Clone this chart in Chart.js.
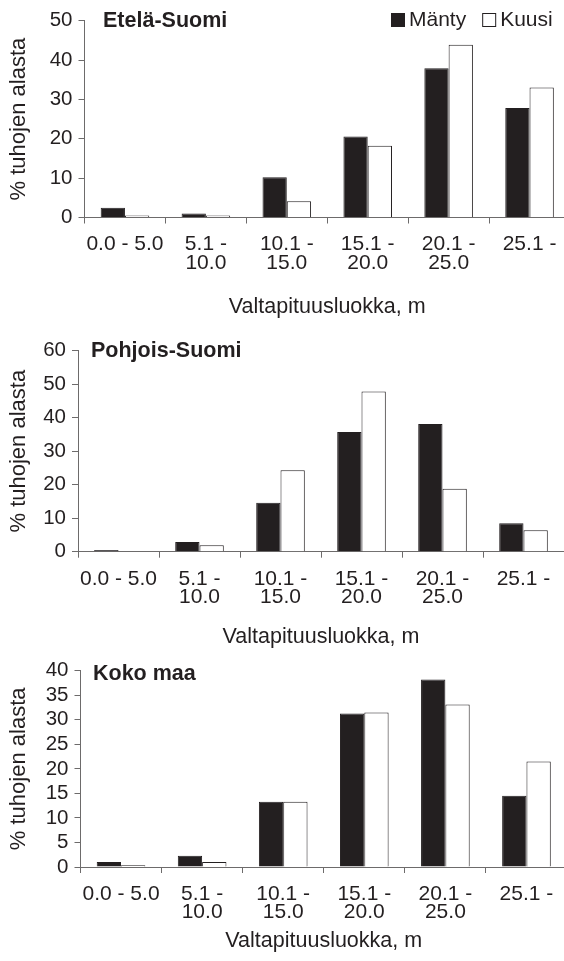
<!DOCTYPE html>
<html lang="fi">
<head>
<meta charset="UTF-8">
<title>Tuhot valtapituusluokittain</title>
<script src="https://cdn.jsdelivr.net/npm/chart.js@4"></script>
<style>
  body { margin: 0; width: 564px; height: 961px; overflow: hidden; background: #fff; position: relative; }
  canvas { position: absolute; left: 0; }
</style>
</head>
<body>
<canvas id="etela" width="570" height="325" style="top:0px"></canvas>
<canvas id="pohjoinen" width="564" height="325" style="top:330px"></canvas>
<canvas id="koko" width="567" height="311" style="top:650px"></canvas>
<script>
// luokat ja arvot (luettu kuvasta)
const categories = [['0.0 - 5.0'], ['5.1 -', '10.0'], ['10.1 -', '15.0'], ['15.1 -', '20.0'], ['20.1 -', '25.0'], ['25.1 -']]
const seriesNames = ['Mänty', 'Kuusi']

const etelaManty = [2.5, 1.0, 10.2, 20.6, 37.9, 27.8]
const etelaKuusi = [0.5, 0.5, 4.1, 18.2, 43.9, 33.0]
const pohjoisManty = [0.5, 2.9, 14.6, 35.7, 38.1, 8.5]
const pohjoisKuusi = [0, 1.9, 24.3, 47.8, 18.8, 6.4]
const kokoManty = [1.0, 2.3, 13.3, 31.3, 38.2, 14.5]
const kokoKuusi = [0.35, 1.0, 13.3, 31.5, 33.1, 21.5]

const etelaTicks = [0, 10, 20, 30, 40, 50]
const pohjoisTicks = [0, 10, 20, 30, 40, 50, 60]
const kokoTicks = [0, 5, 10, 15, 20, 25, 30, 35, 40]

const ink = '#231f20'
const axisGray = '#6d6b6b'
const fam = '"Liberation Sans", Arial, Helvetica, sans-serif'
Chart.defaults.font.family = fam
Chart.defaults.color = ink

// paneelin otsikko + selite piirretään kuva-alueen sisään
const panelText = {
  id: 'panelText',
  afterDraw(chart, args, opts) {
    const ctx = chart.ctx, area = chart.chartArea
    ctx.save()
    ctx.textBaseline = 'middle'
    ctx.fillStyle = ink
    ctx.font = 'bold 21.5px ' + fam
    ctx.fillText(opts.text, area.left + opts.dx, area.top + opts.dy)
    if (opts.legend) {
      ctx.font = '21px ' + fam
      let x = opts.legend.x
      const y = opts.legend.y
      chart.data.datasets.forEach(ds => {
        ctx.fillStyle = ds.backgroundColor
        ctx.fillRect(x, y - 7, 14, 14)
        ctx.strokeStyle = ink
        ctx.lineWidth = 1
        ctx.strokeRect(x + 0.5, y - 6.5, 13, 13)
        x += 18
        ctx.fillStyle = ink
        ctx.fillText(ds.label, x, y)
        x += ctx.measureText(ds.label).width + 16
      })
    }
    ctx.restore()
  }
}

function makeChart(id, title, manty, kuusi, ticks, axisW, xAxisH, titlePos, xTitlePad, legend) {
  new Chart(document.getElementById(id), {
    type: 'bar',
    data: {
      labels: categories,
      datasets: [
        { label: seriesNames[0], data: manty, backgroundColor: ink, borderColor: ink, borderWidth: 1 },
        { label: seriesNames[1], data: kuusi, backgroundColor: '#ffffff', borderColor: ink, borderWidth: 1 }
      ]
    },
    options: {
      responsive: false,
      animation: false,
      layout: { padding: { top: 20.7, left: 0, right: 0, bottom: 0 } },
      datasets: { bar: { categoryPercentage: 0.6, barPercentage: 1.0 } },
      plugins: {
        legend: { display: false },
        tooltip: { enabled: false },
        panelText: { text: title, dx: titlePos[0], dy: titlePos[1], legend: legend }
      },
      scales: {
        x: {
          grid: { drawOnChartArea: false, drawTicks: true, tickLength: 6, color: axisGray },
          border: { color: axisGray, width: 1 },
          ticks: { maxRotation: 0, autoSkip: false, padding: 12, color: ink, font: { size: 21, lineHeight: 0.87 } },
          title: { display: true, text: 'Valtapituusluokka, m', color: ink, font: { size: 21.5, lineHeight: 1.2 }, padding: { top: 0, bottom: xTitlePad } },
          afterFit(s) { s.height = xAxisH }
        },
        y: {
          min: ticks[0],
          max: ticks[ticks.length - 1],
          grid: { drawOnChartArea: false, drawTicks: true, tickLength: 6, color: axisGray },
          border: { color: axisGray, width: 1 },
          ticks: { stepSize: ticks[1] - ticks[0], autoSkip: false, padding: 6, color: ink, font: { size: 20.5 } },
          title: { display: true, text: '% tuhojen alasta', color: ink, font: { size: 22, lineHeight: 1.2 }, padding: { top: 6, bottom: 0 } },
          afterFit(s) { s.width = axisW }
        }
      }
    },
    plugins: [panelText]
  })
}

makeChart('etela', 'Etelä-Suomi', etelaManty, etelaKuusi, etelaTicks, 84.5, 107.5, [18.5, 0], 5, { x: 391, y: 20 })
makeChart('pohjoinen', 'Pohjois-Suomi', pohjoisManty, pohjoisKuusi, pohjoisTicks, 78, 103.3, [13, 0], 5, null)
makeChart('koko', 'Koko maa', kokoManty, kokoKuusi, kokoTicks, 80.5, 94, [12.5, 3], 7, null)
</script>
</body>
</html>
